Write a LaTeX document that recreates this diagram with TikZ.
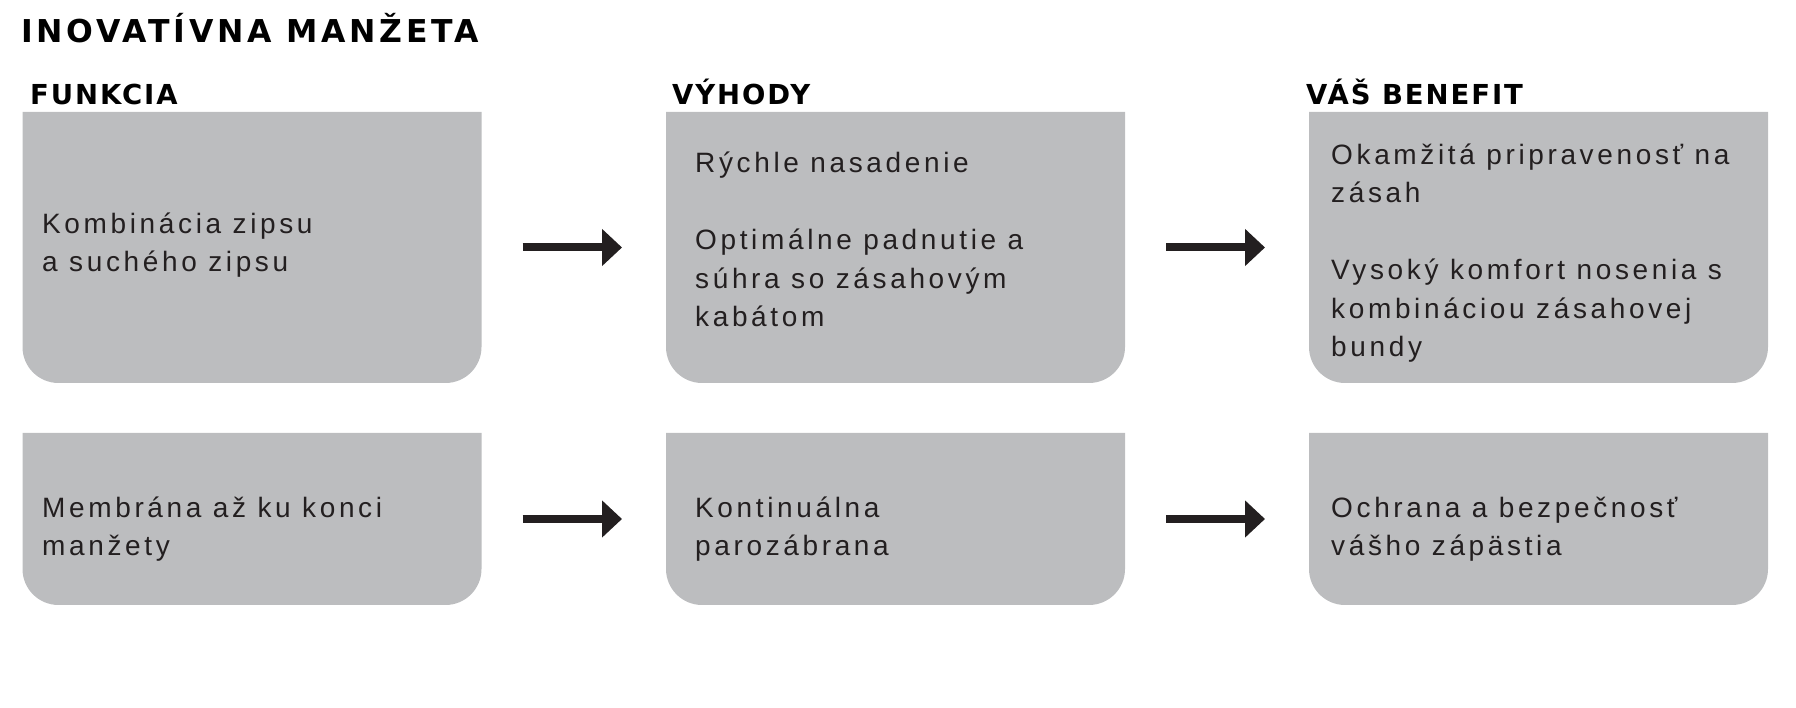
\documentclass[tikz,border=0pt]{standalone}
\usepackage{fontspec}
\setmainfont{Liberation Sans}[LetterSpace=13]
\newfontfamily\headfont{DejaVu Sans}[LetterSpace=7]
\newfontfamily\titlefont{DejaVu Sans}[LetterSpace=12]
\usetikzlibrary{arrows.meta}

\definecolor{boxgray}{RGB}{188,189,191}
\definecolor{inkdark}{RGB}{35,31,32}

\tikzset{
  box/.style={minimum width=459pt, inner sep=0pt, outer sep=0pt},
  bodytext/.style={anchor=base west, inner sep=0pt, align=left, text=inkdark,
    font=\fontsize{28}{38.5}\selectfont},
  heading/.style={anchor=base west, inner sep=0pt,
    font=\headfont\bfseries\fontsize{27.5}{30}\selectfont},
  flow/.style={draw=inkdark, line width=8pt, -{Triangle[length=20pt,width=36pt]},
    shorten <=41pt, shorten >=44pt},
}

% sivé pole: hore ostré rohy, dole zaoblené
\newcommand\graybox[1]{%
  \fill[boxgray] (#1.north west) -- (#1.north east)
    -- ([yshift=36pt]#1.south east) arc[start angle=0, end angle=-90, radius=36pt]
    -- ([xshift=36pt]#1.south west) arc[start angle=270, end angle=180, radius=36pt]
    -- cycle;}

\begin{document}
\begin{tikzpicture}[x=1pt, y=1pt]
    \useasboundingbox (0,0) rectangle (1796,708);

    % 1. Polia (stĺpce FUNKCIA, VÝHODY, VÁŠ BENEFIT)
    \node[box, minimum height=271pt] (f1) at (252, 460.5) {};
    \node[box, minimum height=271pt] (v1) at (895.5, 460.5) {};
    \node[box, minimum height=271pt] (b1) at (1538.5, 460.5) {};
    \node[box, minimum height=172pt] (f2) at (252, 189) {};
    \node[box, minimum height=172pt] (v2) at (895.5, 189) {};
    \node[box, minimum height=172pt] (b2) at (1538.5, 189) {};
    \foreach \n in {f1, v1, b1, f2, v2, b2}
        \graybox{\n};

    % 2. Nadpisy
    \node[heading, font=\titlefont\bfseries\fontsize{31.5}{34}\selectfont] (title) at (21, 665) {INOVATÍVNA MANŽETA};
    \node[heading] (hf) at (30, 603) {FUNKCIA};
    \node[heading] (hv) at (672, 603) {VÝHODY};
    \node[heading] (hb) at (1306, 603) {VÁŠ BENEFIT};

    % 3. Texty v poliach (kotva = základná línia posledného riadku)
    \node[bodytext] (f1t) at (42, 436) {Kombinácia zipsu\\a suchého zipsu};
    \node[bodytext] (v1t) at (695, 381) {Rýchle nasadenie\\[38.5pt]Optimálne padnutie a\\súhra so zásahovým\\kabátom};
    \node[bodytext] (b1t) at (1331, 351) {Okamžitá pripravenosť na\\zásah\\[38.5pt]Vysoký komfort nosenia s\\kombináciou zásahovej\\bundy};
    \node[bodytext] (f2t) at (42, 152) {Membrána až ku konci\\manžety};
    \node[bodytext] (v2t) at (695, 152) {Kontinuálna\\parozábrana};
    \node[bodytext] (b2t) at (1331, 152) {Ochrana a bezpečnosť\\vášho zápästia};

    % 4. Šípky
    \draw[flow] (f1) -- (v1);
    \draw[flow] (v1) -- (b1);
    \draw[flow] (f2) -- (v2);
    \draw[flow] (v2) -- (b2);
\end{tikzpicture}
\end{document}
